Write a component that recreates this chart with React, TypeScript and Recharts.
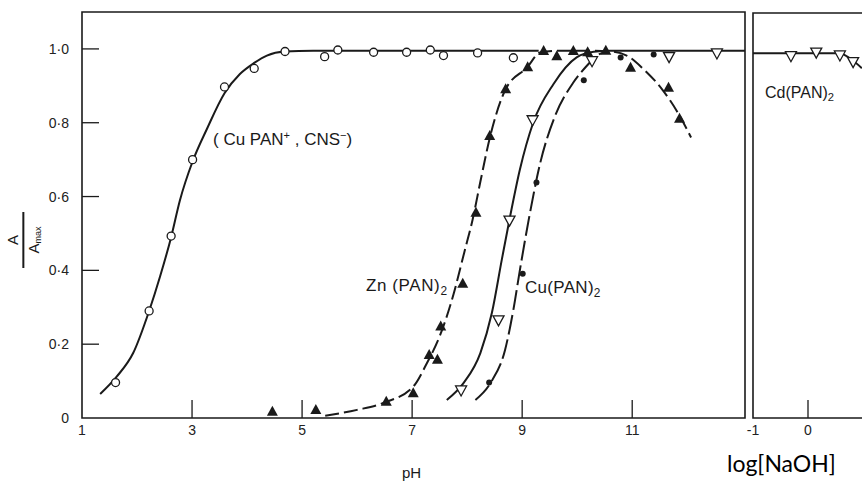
import React from 'react';
import { ComposedChart, Line, Scatter, XAxis, YAxis, ReferenceArea } from 'recharts';

// A/Amax vs pH — markers
const cuPanPoints = [
  { x: 1.61, y: 0.096 }, { x: 2.22, y: 0.29 }, { x: 2.62, y: 0.493 }, { x: 3.01, y: 0.7 },
  { x: 3.59, y: 0.897 }, { x: 4.13, y: 0.947 }, { x: 4.69, y: 0.993 }, { x: 5.41, y: 0.979 },
  { x: 5.65, y: 0.997 }, { x: 6.3, y: 0.991 }, { x: 6.9, y: 0.991 }, { x: 7.33, y: 0.997 },
  { x: 7.57, y: 0.982 }, { x: 8.19, y: 0.989 }, { x: 8.84, y: 0.976 },
];
const znPoints = [
  { x: 4.46, y: 0.017 }, { x: 5.25, y: 0.022 }, { x: 6.53, y: 0.044 }, { x: 7.02, y: 0.067 },
  { x: 7.31, y: 0.171 }, { x: 7.46, y: 0.158 }, { x: 7.52, y: 0.248 }, { x: 7.92, y: 0.364 },
  { x: 8.16, y: 0.556 }, { x: 8.41, y: 0.764 }, { x: 8.7, y: 0.891 }, { x: 9.1, y: 0.95 },
  { x: 9.39, y: 0.994 }, { x: 9.63, y: 0.98 }, { x: 9.93, y: 0.994 }, { x: 10.19, y: 0.991 },
  { x: 10.52, y: 0.995 }, { x: 10.97, y: 0.949 }, { x: 11.66, y: 0.895 }, { x: 11.86, y: 0.811 },
];
const cuOpenPoints = [
  { x: 7.89, y: 0.076 }, { x: 8.57, y: 0.266 }, { x: 8.77, y: 0.536 }, { x: 9.19, y: 0.808 },
  { x: 10.27, y: 0.968 }, { x: 11.67, y: 0.979 }, { x: 12.54, y: 0.989 },
];
const cuFilledPoints = [
  { x: 8.4, y: 0.096 }, { x: 9.01, y: 0.391 }, { x: 9.26, y: 0.638 }, { x: 10.12, y: 0.915 },
  { x: 10.79, y: 0.977 }, { x: 11.39, y: 0.985 },
];

// hand-drawn curves
const cuPanCurve = [
  { x: 1.33, y: 0.065 }, { x: 1.63, y: 0.112 }, { x: 1.93, y: 0.176 }, { x: 2.22, y: 0.29 },
  { x: 2.42, y: 0.384 }, { x: 2.62, y: 0.49 }, { x: 2.78, y: 0.59 }, { x: 3.01, y: 0.695 },
  { x: 3.27, y: 0.783 }, { x: 3.59, y: 0.88 }, { x: 3.87, y: 0.932 }, { x: 4.13, y: 0.962 },
  { x: 4.36, y: 0.982 }, { x: 4.68, y: 0.993 }, { x: 5.2, y: 0.995 }, { x: 9.3, y: 0.995 },
];
const znCurve = [
  { x: 5.42, y: 0.006 }, { x: 6.0, y: 0.022 }, { x: 6.5, y: 0.042 }, { x: 7.02, y: 0.085 },
  { x: 7.27, y: 0.149 }, { x: 7.51, y: 0.225 }, { x: 7.75, y: 0.334 }, { x: 7.95, y: 0.45 },
  { x: 8.1, y: 0.538 }, { x: 8.24, y: 0.64 }, { x: 8.42, y: 0.764 }, { x: 8.69, y: 0.888 },
  { x: 9.09, y: 0.95 }, { x: 9.33, y: 0.99 }, { x: 9.7, y: 0.995 }, { x: 10.2, y: 0.995 },
  { x: 10.6, y: 0.993 }, { x: 10.9, y: 0.982 }, { x: 11.2, y: 0.946 }, { x: 11.54, y: 0.891 },
  { x: 11.81, y: 0.832 }, { x: 12.07, y: 0.76 },
];
const cuOpenCurve = [
  { x: 7.63, y: 0.049 }, { x: 7.93, y: 0.094 }, { x: 8.24, y: 0.176 }, { x: 8.45, y: 0.285 },
  { x: 8.63, y: 0.429 }, { x: 8.77, y: 0.538 }, { x: 8.96, y: 0.674 }, { x: 9.2, y: 0.8 },
  { x: 9.57, y: 0.905 }, { x: 9.99, y: 0.977 }, { x: 10.3, y: 0.992 }, { x: 10.6, y: 0.995 },
  { x: 13.05, y: 0.995 },
];
const cuFilledCurve = [
  { x: 8.15, y: 0.049 }, { x: 8.42, y: 0.094 }, { x: 8.69, y: 0.185 }, { x: 8.84, y: 0.293 },
  { x: 8.96, y: 0.402 }, { x: 9.12, y: 0.538 }, { x: 9.33, y: 0.692 }, { x: 9.6, y: 0.819 },
  { x: 9.93, y: 0.909 }, { x: 10.18, y: 0.955 }, { x: 10.36, y: 0.982 }, { x: 10.55, y: 0.994 },
];

// right panel, A/Amax vs log[NaOH]
const cdPoints = [
  { x: -0.31, y: 0.984 }, { x: 0.15, y: 0.994 }, { x: 0.58, y: 0.986 }, { x: 0.82, y: 0.968 },
];
const cdCurve = [
  { x: -1, y: 0.991 }, { x: 0.58, y: 0.991 }, { x: 0.76, y: 0.977 }, { x: 0.98, y: 0.95 },
];

const phTicks = [1, 3, 5, 7, 9, 11];
const naohTicks = [-1, 0];
const yTicks = [0, 0.2, 0.4, 0.6, 0.8, 1.0];

const INK = '#1a1a1a';
const TICK_FONT = '"Liberation Sans", Arial, sans-serif';
const GAP = 7;

const fmtY = (v: number) => (v === 0 ? '0' : v.toFixed(1).replace('.', '·'));

function XTick(props: any) {
  const { x, y, payload, skip } = props;
  const axisY = y - GAP;
  return (
    <g>
      {payload.value !== skip && <line x1={x} x2={x} y1={axisY} y2={axisY - 18} stroke={INK} strokeWidth={1.3} />}
      <text x={x} y={y} dy="0.71em" textAnchor="middle" fontSize={14} fontFamily={TICK_FONT} fill="#222">
        {payload.value}
      </text>
    </g>
  );
}

function YTick(props: any) {
  const { x, y, payload } = props;
  const axisX = x + 13;
  return (
    <g>
      {payload.value !== 0 && <line x1={axisX} x2={axisX + 17} y1={y} y2={y} stroke={INK} strokeWidth={1.3} />}
      <text x={x} y={y} dy="0.36em" textAnchor="end" fontSize={14} fontFamily={TICK_FONT} fill="#222">
        {fmtY(payload.value)}
      </text>
    </g>
  );
}

const OpenCircle = (p: any) => <circle cx={p.cx} cy={p.cy} r={4} fill="#fff" stroke={INK} strokeWidth={1.3} />;
const FilledDot = (p: any) => <circle cx={p.cx} cy={p.cy} r={3} fill={INK} />;
const FilledTri = (p: any) => (
  <path d={`M${p.cx},${p.cy - 6} L${p.cx + 5.5},${p.cy + 4} L${p.cx - 5.5},${p.cy + 4} Z`} fill={INK} />
);
const OpenDownTri = (p: any) => (
  <path d={`M${p.cx - 5.5},${p.cy - 4} L${p.cx + 5.5},${p.cy - 4} L${p.cx},${p.cy + 6} Z`}
        fill="#fff" stroke={INK} strokeWidth={1.3} />
);

const sub = { fontSize: '0.7em', verticalAlign: '-0.3em', lineHeight: 0 } as const;
const sup = { fontSize: '0.65em', verticalAlign: '0.55em', lineHeight: 0 } as const;

function Note({ left, top, size = 15, spacing = 0, children }: { left: number; top: number; size?: number; spacing?: number; children: React.ReactNode }) {
  return (
    <div style={{ position: 'absolute', left, top, fontSize: size, letterSpacing: spacing, lineHeight: 1, color: '#1a1a1a', whiteSpace: 'nowrap' }}>
      {children}
    </div>
  );
}

export default function App() {
  return (
    <div style={{ position: 'relative', width: 862, height: 481, overflow: 'hidden', background: '#fff', fontFamily: TICK_FONT }}>
      <style>{'body{margin:0}'}</style>

      <div style={{ position: 'absolute', left: 0, top: 0 }}>
        <ComposedChart width={760} height={481} margin={{ top: 12, right: 15, left: 42, bottom: 33 }}>
          <XAxis type="number" dataKey="x" domain={[1, 13.05]} ticks={phTicks} allowDataOverflow
                 axisLine={false} tickLine={false} tickSize={0} tickMargin={GAP} height={30}
                 tick={<XTick skip={1} />} />
          <YAxis type="number" dataKey="y" domain={[0, 1.1]} ticks={yTicks} allowDataOverflow
                 axisLine={false} tickLine={false} tickSize={0} tickMargin={13} width={40}
                 tick={<YTick />} />
          <ReferenceArea x1={1} x2={13.05} y1={0} y2={1.1} fill="none" stroke={INK} strokeWidth={1.6} ifOverflow="visible" />
          <Line data={cuPanCurve} dataKey="y" type="monotone" stroke={INK} strokeWidth={2} dot={false} isAnimationActive={false} />
          <Line data={znCurve} dataKey="y" type="monotone" stroke={INK} strokeWidth={2} strokeDasharray="14 5" dot={false} isAnimationActive={false} />
          <Line data={cuOpenCurve} dataKey="y" type="monotone" stroke={INK} strokeWidth={2} dot={false} isAnimationActive={false} />
          <Line data={cuFilledCurve} dataKey="y" type="monotone" stroke={INK} strokeWidth={2} strokeDasharray="20 5" dot={false} isAnimationActive={false} />
          <Scatter data={cuPanPoints} dataKey="y" shape={<OpenCircle />} isAnimationActive={false} />
          <Scatter data={znPoints} dataKey="y" shape={<FilledTri />} isAnimationActive={false} />
          <Scatter data={cuOpenPoints} dataKey="y" shape={<OpenDownTri />} isAnimationActive={false} />
          <Scatter data={cuFilledPoints} dataKey="y" shape={<FilledDot />} isAnimationActive={false} />
        </ComposedChart>
      </div>

      <div style={{ position: 'absolute', left: 713, top: 0 }}>
        <ComposedChart width={215} height={481} margin={{ top: 13, right: 10, left: 40, bottom: 33 }}>
          <XAxis type="number" dataKey="x" domain={[-1, 2]} ticks={naohTicks} allowDataOverflow
                 axisLine={false} tickLine={false} tickSize={0} tickMargin={GAP} height={30}
                 tick={<XTick skip={-1} />} />
          <YAxis type="number" dataKey="y" domain={[0, 1.1]} hide />
          <ReferenceArea x1={-1} x2={2} y1={0} y2={1.1} fill="none" stroke={INK} strokeWidth={1.6} ifOverflow="visible" />
          <Line data={cdCurve} dataKey="y" type="monotone" stroke={INK} strokeWidth={2} dot={false} isAnimationActive={false} />
          <Scatter data={cdPoints} dataKey="y" shape={<OpenDownTri />} isAnimationActive={false} />
        </ComposedChart>
      </div>

      {/* y-axis label: A / A max, rotated */}
      <div style={{ position: 'absolute', left: 24, top: 240, transform: 'translate(-50%, -50%) rotate(-90deg)',
                    display: 'flex', flexDirection: 'column', alignItems: 'center', fontSize: 15, lineHeight: 1, color: '#1a1a1a' }}>
        <span>A</span>
        <div style={{ width: 56, height: 1.5, background: '#1a1a1a', margin: '2px 0' }} />
        <span>A<span style={{ fontSize: 9, verticalAlign: '-0.2em' }}>max</span></span>
      </div>

      <Note left={213} top={131} size={17}>( Cu PAN<span style={sup}>+</span> , CNS<span style={sup}>−</span>)</Note>
      <Note left={366} top={277} size={17} spacing={0.6}>Zn (PAN)<span style={sub}>2</span></Note>
      <Note left={525} top={279} size={17} spacing={0.3}>Cu(PAN)<span style={sub}>2</span></Note>
      <Note left={765} top={85} size={16}>Cd(PAN)<span style={sub}>2</span></Note>
      <Note left={402} top={465}>pH</Note>
      <div style={{ position: 'absolute', left: 727, top: 452, fontFamily: 'Lato, sans-serif', fontSize: 23, lineHeight: 1, color: '#000' }}>
        log[NaOH]
      </div>
    </div>
  );
}
